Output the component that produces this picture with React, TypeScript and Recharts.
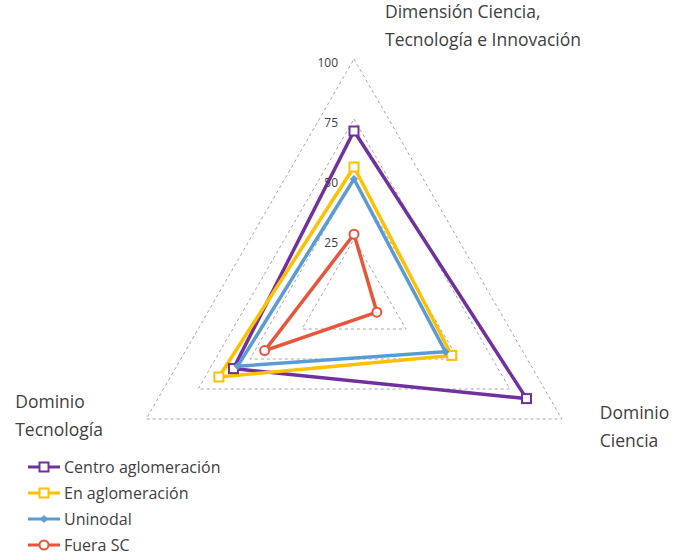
import {
  Legend,
  PolarAngleAxis,
  PolarGrid,
  PolarRadiusAxis,
  Radar,
  RadarChart,
} from "recharts";

const axes = [
  "Dimensión Ciencia, Tecnología e Innovación",
  "Dominio Ciencia",
  "Dominio Tecnología",
];
const axisLines = [
  ["Dimensión Ciencia,", "Tecnología e Innovación"],
  ["Dominio", "Ciencia"],
  ["Dominio", "Tecnología"],
];
const centroAglomeracion = [70, 83, 58];
const enAglomeracion = [55, 47, 65];
const uninodal = [50, 44, 56];
const fueraSC = [27, 11, 43];
const radiusTicks = [0, 25, 50, 75, 100];

const series = [
  { key: "centro", name: "Centro aglomeración", color: "#7030A0", shape: "square", values: centroAglomeracion },
  { key: "en", name: "En aglomeración", color: "#FFC000", shape: "square", values: enAglomeracion },
  { key: "uni", name: "Uninodal", color: "#5B9BD5", shape: "diamond", values: uninodal },
  { key: "fuera", name: "Fuera SC", color: "#E8553A", shape: "circle", values: fueraSC },
];

const data = axes.map((axis, i) => {
  const row: Record<string, string | number> = { axis };
  series.forEach((s) => (row[s.key] = s.values[i]));
  return row;
});

const FONT = "'Open Sans', 'Noto Sans', sans-serif";
const TEXT = "#404040";

function Marker({ cx, cy, color, shape }: any) {
  if (shape === "square")
    return <rect x={cx - 4.5} y={cy - 4.5} width={9} height={9} fill="#fff" stroke={color} strokeWidth={2} />;
  if (shape === "circle")
    return <circle cx={cx} cy={cy} r={4.5} fill="#fff" stroke={color} strokeWidth={2} />;
  return (
    <path
      d={`M${cx},${cy - 3.5} L${cx + 3.5},${cy} L${cx},${cy + 3.5} L${cx - 3.5},${cy} Z`}
      fill={color}
      stroke={color}
    />
  );
}

// label offsets from the tick point, per axis
const labelOffsets = [
  { dx: 31, dy: -33 },
  { dx: 31, dy: -4 },
  { dx: -124, dy: -15 },
];

function AngleTick({ x, y, index }: any) {
  const o = labelOffsets[index];
  return (
    <text x={x + o.dx} y={y + o.dy} fill={TEXT} fontSize={17.5} fontFamily={FONT} textAnchor="start">
      {axisLines[index].map((line, i) => (
        <tspan key={i} x={x + o.dx} dy={i === 0 ? 0 : 28}>
          {line}
        </tspan>
      ))}
    </text>
  );
}

function RadiusTick({ x, y, payload }: any) {
  if (payload.value === 0) return <g />;
  return (
    <text x={x - 16} y={y + 3} textAnchor="end" dominantBaseline="central" fontSize={12} fontFamily={FONT} fill={TEXT}>
      {payload.value}
    </text>
  );
}

function LegendContent() {
  return (
    <div style={{ fontFamily: FONT, fontSize: 16, color: TEXT }}>
      {series.map((s) => (
        <div key={s.key} style={{ height: 26, display: "flex", alignItems: "center" }}>
          <svg width={34} height={14} style={{ marginRight: 2 }}>
            <line x1={0} y1={7} x2={32} y2={7} stroke={s.color} strokeWidth={3} />
            <Marker cx={16} cy={7} color={s.color} shape={s.shape} />
          </svg>
          <span>{s.name}</span>
        </div>
      ))}
    </div>
  );
}

export default function App() {
  return (
    <div style={{ position: "absolute", left: 0, top: 0 }}>
      <RadarChart width={678} height={556} data={data} cx={354} cy={299} outerRadius={240}>
        <PolarGrid gridType="polygon" radialLines={false} stroke="#A6A6A6" strokeDasharray="3 3" />
        <PolarAngleAxis dataKey="axis" tick={<AngleTick />} tickLine={false} axisLine={false} />
        <PolarRadiusAxis
          angle={90}
          domain={[0, 100]}
          ticks={radiusTicks as any}
          tickCount={5}
          tick={<RadiusTick />}
          axisLine={false}
          tickLine={false}
        />
        {series.map((s) => (
          <Radar
            key={s.key}
            name={s.name}
            dataKey={s.key}
            stroke={s.color}
            strokeWidth={3.5}
            fill="none"
            fillOpacity={0}
            isAnimationActive={false}
            dot={(p: any) => <Marker key={`${s.key}-${p.index}`} cx={p.cx} cy={p.cy} color={s.color} shape={s.shape} />}
          />
        ))}
        <Legend
          content={<LegendContent />}
          wrapperStyle={{ position: "absolute", left: 28, top: 454, width: 260, bottom: "auto" }}
        />
      </RadarChart>
    </div>
  );
}
